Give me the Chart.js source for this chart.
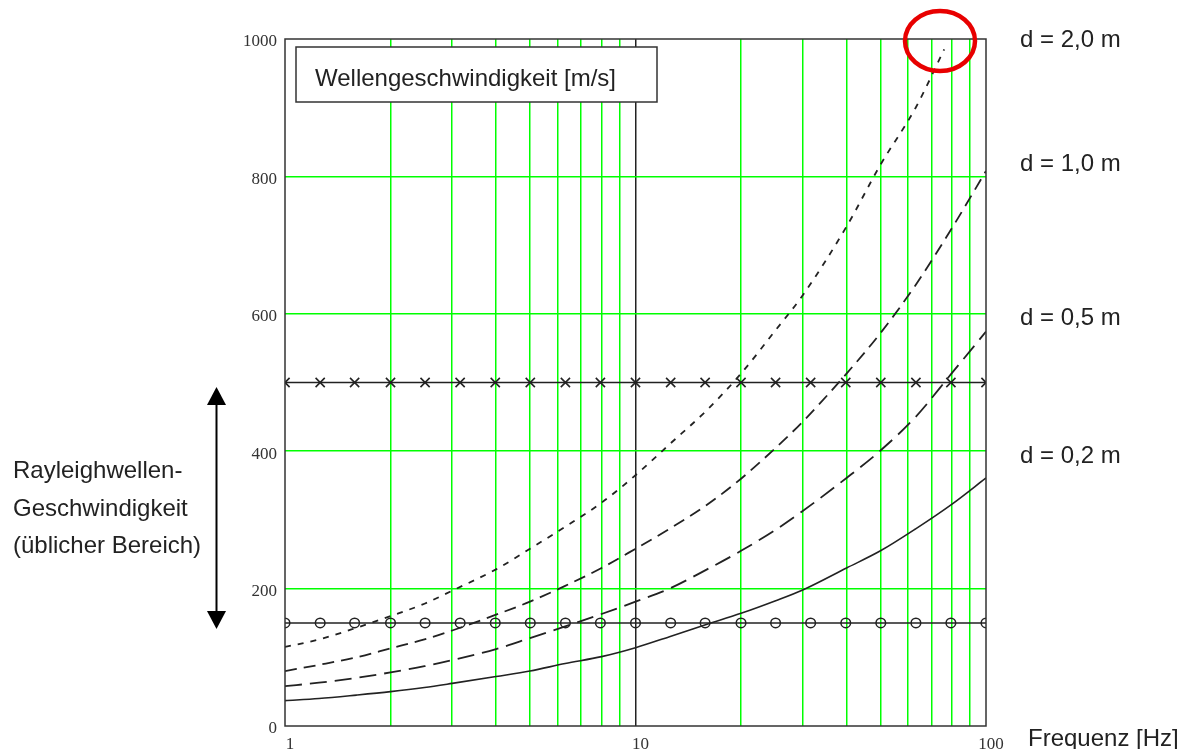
<!DOCTYPE html>
<html>
<head>
<meta charset="utf-8">
<script src="https://cdn.jsdelivr.net/npm/chart.js"></script>
<style>
  html, body { margin: 0; padding: 0; background: #fff; }
  #wrap { width: 1189px; height: 749px; }
</style>
</head>
<body>
<div id="wrap"><canvas id="chart" width="1189" height="749"></canvas></div>
<script>
// frequencies in Hz (log axis)
const curveFreq = [1, 1.25, 1.6, 2, 2.5, 3, 4, 5, 6.3, 8, 10, 12.5, 16, 20, 25, 30, 40, 50, 63, 80, 100];
const freq20 = [1, 1.25, 1.6, 2, 2.5, 3, 4, 5, 6.3, 8, 10, 12.5, 16, 20, 25, 30, 40, 50, 63, 76];
const markerFreq = [1, 1.26, 1.58, 2, 2.51, 3.16, 3.98, 5.01, 6.31, 7.94, 10, 12.6, 15.8, 20, 25.1, 31.6, 39.8, 50.1, 63.1, 79.4, 100];
const gridFreq = [1, 2, 3, 4, 5, 6, 7, 8, 9, 10, 20, 30, 40, 50, 60, 70, 80, 90, 100];

// wave velocity [m/s] per layer thickness d
const v02 = [37, 40, 45, 50, 56, 62, 72, 80, 91, 101, 114, 130, 148, 164, 182, 198, 230, 255, 287, 323, 361];
const v05 = [58, 63, 70, 78, 87, 96, 112, 128, 145, 163, 181, 200, 228, 255, 285, 313, 361, 401, 450, 514, 574];
const v10 = [80, 89, 100, 113, 126, 139, 162, 181, 204, 230, 258, 287, 322, 360, 404, 443, 513, 572, 642, 725, 808];
const v20 = [115, 126, 143, 160, 178, 197, 228, 258, 290, 325, 365, 410, 460, 513, 575, 627, 727, 817, 900, 985];

// Rayleigh wave range limits
const upperLimit = 500;
const lowerLimit = 150;

const yTicks = [0, 200, 400, 600, 800, 1000];
const xLabels = [1, 10, 100];

const curveLabels = ['d = 2,0 m', 'd = 1,0 m', 'd = 0,5 m', 'd = 0,2 m'];

function pts(xs, ys) {
  return xs.map((x, i) => ({ x: x, y: ys[i] }));
}

const ink = '#222';
const green = 'rgb(0,255,0)';

const extras = {
  id: 'extras',
  afterDraw(chart) {
    const c = chart.ctx;
    const a = chart.chartArea;
    c.save();

    // frame
    c.strokeStyle = '#333';
    c.lineWidth = 1.5;
    c.strokeRect(a.left, a.top, a.right - a.left, a.bottom - a.top);

    // title box
    c.fillStyle = '#fff';
    c.fillRect(296, 47, 361, 55);
    c.strokeStyle = '#333';
    c.lineWidth = 1.5;
    c.strokeRect(296, 47, 361, 55);
    c.fillStyle = ink;
    c.font = '24px "Liberation Sans", Arial, sans-serif';
    c.textBaseline = 'alphabetic';
    c.textAlign = 'left';
    c.fillText('Wellengeschwindigkeit [m/s]', 315, 86);

    // curve labels on the right
    const baselines = [47, 171, 325, 463];
    curveLabels.forEach((t, i) => c.fillText(t, 1020, baselines[i]));

    c.fillText('Frequenz [Hz]', 1028, 746);

    // left annotation
    c.fillText('Rayleighwellen-', 13, 478);
    c.fillText('Geschwindigkeit', 13, 516);
    c.fillText('(üblicher Bereich)', 13, 553);

    // double arrow
    c.strokeStyle = '#000';
    c.fillStyle = '#000';
    c.lineWidth = 2;
    c.beginPath();
    c.moveTo(216.5, 400);
    c.lineTo(216.5, 616);
    c.stroke();
    c.beginPath();
    c.moveTo(216.5, 387);
    c.lineTo(207, 405);
    c.lineTo(226, 405);
    c.closePath();
    c.fill();
    c.beginPath();
    c.moveTo(216.5, 629);
    c.lineTo(207, 611);
    c.lineTo(226, 611);
    c.closePath();
    c.fill();

    // red highlight circle
    c.strokeStyle = 'rgb(232,0,0)';
    c.lineWidth = 4.5;
    c.beginPath();
    c.ellipse(940, 41, 35, 30, 0, 0, Math.PI * 2);
    c.stroke();

    c.restore();
  }
};

const curveStyle = {
  showLine: true,
  borderColor: ink,
  borderWidth: 1.8,
  pointRadius: 0,
  cubicInterpolationMode: 'monotone'
};

new Chart(document.getElementById('chart'), {
  type: 'scatter',
  data: {
    datasets: [
      Object.assign({ label: curveLabels[0], data: pts(freq20, v20), borderDash: [6, 7] }, curveStyle),
      Object.assign({ label: curveLabels[1], data: pts(curveFreq, v10), borderDash: [12, 7] }, curveStyle),
      Object.assign({ label: curveLabels[2], data: pts(curveFreq, v05), borderDash: [17, 8] }, curveStyle),
      Object.assign({ label: curveLabels[3], data: pts(curveFreq, v02) }, curveStyle, { borderWidth: 1.6 }),
      {
        label: 'upper',
        data: markerFreq.map(f => ({ x: f, y: upperLimit })),
        showLine: true,
        borderColor: ink,
        borderWidth: 1.6,
        pointStyle: 'crossRot',
        pointRadius: 6.5,
        pointBorderWidth: 1.6,
        pointBorderColor: ink
      },
      {
        label: 'lower',
        data: markerFreq.map(f => ({ x: f, y: lowerLimit })),
        showLine: true,
        borderColor: ink,
        borderWidth: 1.6,
        pointStyle: 'circle',
        pointRadius: 4.8,
        pointBorderWidth: 1.5,
        pointBorderColor: ink,
        pointBackgroundColor: 'rgba(0,0,0,0)'
      }
    ]
  },
  options: {
    responsive: false,
    animation: false,
    layout: { padding: { top: 39, right: 203, left: 0, bottom: 0 } },
    plugins: {
      legend: { display: false },
      tooltip: { enabled: false }
    },
    scales: {
      x: {
        type: 'logarithmic',
        min: 1,
        max: 100,
        afterFit: s => { s.height = 23; },
        afterBuildTicks: s => { s.ticks = gridFreq.map(v => ({ value: v })); },
        border: { display: false },
        grid: {
          drawTicks: false,
          lineWidth: 1.5,
          color: ctx => {
            const v = ctx.tick && ctx.tick.value;
            if (v === 1 || v === 100) return 'rgba(0,0,0,0)';
            if (v === 10) return ink;
            return green;
          }
        },
        ticks: {
          autoSkip: false,
          maxRotation: 0,
          padding: 8,
          labelOffset: 5,
          color: '#333',
          font: { family: '"Liberation Serif", "Times New Roman", serif', size: 17 },
          callback: v => xLabels.includes(v) ? String(v) : ''
        }
      },
      y: {
        min: 0,
        max: 1000,
        afterFit: s => { s.width = 285; },
        afterBuildTicks: s => { s.ticks = yTicks.map(v => ({ value: v })); },
        border: { display: false },
        grid: {
          drawTicks: false,
          lineWidth: 1.5,
          color: ctx => {
            const v = ctx.tick && ctx.tick.value;
            return (v === 0 || v === 1000) ? 'rgba(0,0,0,0)' : green;
          }
        },
        ticks: {
          padding: 8,
          labelOffset: 3,
          color: '#333',
          font: { family: '"Liberation Serif", "Times New Roman", serif', size: 17 },
          callback: v => String(v)
        }
      }
    }
  },
  plugins: [extras]
});
</script>
</body>
</html>
